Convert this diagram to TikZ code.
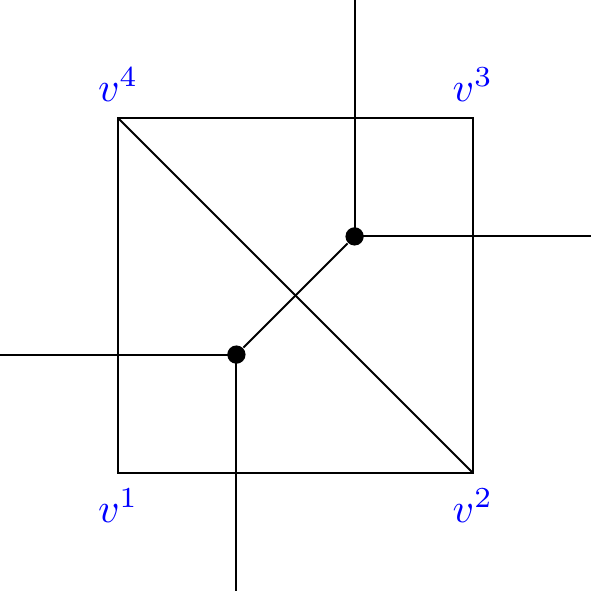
\documentclass[tikz,border=0pt]{standalone}
\begin{document}
\begin{tikzpicture}[x=1cm,y=1cm,
  edge/.style={draw=black,line width=0.45pt},
  vdot/.style={circle,fill=black,inner sep=0pt,minimum size=4.4pt},
  vlabel/.style={text=blue,anchor=base,inner sep=0pt}]
\useasboundingbox (0,0) rectangle (5,5);
\coordinate (v1) at (1,1);
\coordinate (v2) at (4,1);
\coordinate (v3) at (4,4);
\coordinate (v4) at (1,4);
\node[vdot] (a) at (2,2) {};
\node[vdot] (b) at (3,3) {};
\coordinate (aL) at (0,2);
\coordinate (aD) at (2,0);
\coordinate (bU) at (3,5);
\coordinate (bR) at (5,3);
\draw[edge] (v1) -- (v2) -- (v3) -- (v4) -- cycle;
\draw[edge] (v4) -- (v2);
\draw[edge] (a) -- (b);
\draw[edge] (a.center) -- (aL);
\draw[edge] (a.center) -- (aD);
\draw[edge] (b.center) -- (bU);
\draw[edge] (b.center) -- (bR);
\node[vlabel] (l1) at (1,0.58) {$v^1$};
\node[vlabel] (l2) at (4,0.58) {$v^2$};
\node[vlabel] (l3) at (4,4.14) {$v^3$};
\node[vlabel] (l4) at (1,4.14) {$v^4$};
\end{tikzpicture}
\end{document}
